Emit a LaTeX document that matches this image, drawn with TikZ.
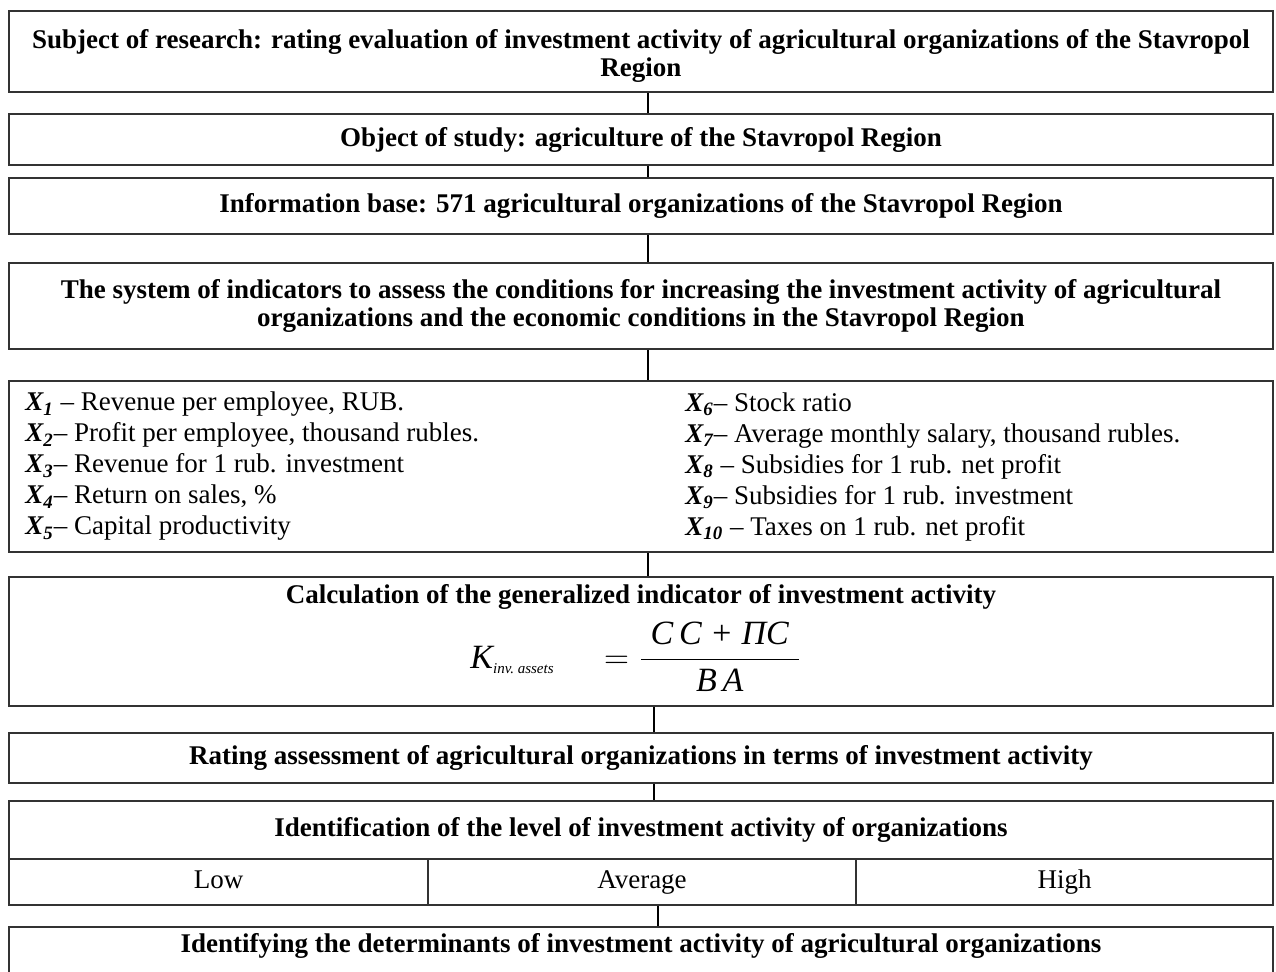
\documentclass[tikz,border=0pt]{standalone}
\usepackage{amsmath}
\usepackage{fontspec}
\setmainfont{Liberation Serif}
\usepackage{tikz}
\newcommand\hdfont{\fontsize{13.5}{14}\selectfont\bfseries}
\newcommand\lsfont{\fontsize{13.5}{15.5}\selectfont}
\newcommand\xvar[1]{\textbf{\itshape X\textsubscript{#1}}}
\tikzset{
  box/.style={draw=black!80, line width=0.8pt, minimum width=632pt, inner sep=0pt,
              align=center, font=\hdfont},                 % flow box
  cell/.style={draw=black!80, line width=0.8pt, inner sep=0pt, minimum height=23pt,
               text height=9.5pt, text depth=3pt, font=\lsfont}, % level cell
  lst/.style={inner sep=0pt, align=left, font=\lsfont},     % list of indicators
  conn/.style={draw=black, line width=0.7pt},               % connector
}

\begin{document}
\begin{tikzpicture}[x=0.5pt, y=-0.5pt]
  \useasboundingbox (0,0) rectangle (1276,971);
  \node[box, minimum height=40.5pt] (subj) at (641,51.5)
    {\rule{0pt}{14pt}Subject of research: rating evaluation of investment activity of agricultural organizations of the Stavropol\\Region};
  \node[box, minimum height=25.5pt] (obj) at (641,139.5) {Object of study: agriculture of the Stavropol Region};
  \node[box, minimum height=28pt] (info) at (641,206) {Information base: 571 agricultural organizations of the Stavropol Region};
  \node[box, minimum height=43pt] (sys) at (641,306)
    {The system of indicators to assess the conditions for increasing the investment activity of agricultural\\organizations and the economic conditions in the Stavropol Region};
  \node[box, minimum height=85.5pt] (ind) at (641,466.5) {};
  \node[lst, anchor=west] (indL) at (25,466.5)
    {\xvar{1} -- Revenue per employee, RUB.\\
     \xvar{2}-- Profit per employee, thousand rubles.\\
     \xvar{3}-- Revenue for 1 rub. investment\\
     \xvar{4}-- Return on sales, \%\\
     \xvar{5}-- Capital productivity};
  \node[lst, anchor=west] (indR) at (685,466.5)
    {\xvar{6}-- Stock ratio\\
     \xvar{7}-- Average monthly salary, thousand rubles.\\
     \xvar{8} -- Subsidies for 1 rub. net profit\\
     \xvar{9}-- Subsidies for 1 rub. investment\\
     \xvar{10} -- Taxes on 1 rub. net profit};
  \node[box, minimum height=64.5pt] (calc) at (641,641.5) {};
  \node[font=\hdfont, inner sep=0pt] (calcT) at (641,597) {Calculation of the generalized indicator of investment activity};
  \node[inner sep=0pt, anchor=west, font=\fontsize{17}{20}\selectfont] (frm) at (470,657)
    {$\text{\itshape K}_{\text{\fontsize{7.5}{9}\selectfont\itshape inv.\ assets}}\hspace{20pt}=
      \genfrac{}{}{0.8pt}{0}{\;\text{\itshape C\,C + ПC}\;}{\text{\itshape B\,A}}$};
  \node[box, minimum height=25pt] (rate) at (641,758) {Rating assessment of agricultural organizations in terms of investment activity};
  \node[box, minimum height=29pt] (lvl) at (641,830) {Identification of the level of investment activity of organizations};
  \node[cell, minimum width=209.5pt] (low) at (218.5,882) {Low};
  \node[cell, minimum width=214pt] (avg) at (642,882) {Average};
  \node[cell, minimum width=208.5pt] (high) at (1064.5,882) {High};
  \node[box, anchor=north, text height=13pt, text depth=16pt] (det) at (641,926)
    {Identifying the determinants of investment activity of agricultural organizations};
  \foreach \a/\b/\s in {subj/obj/3.5pt, obj/info/3.5pt, info/sys/3.5pt, sys/ind/3.5pt,
                        ind/calc/3.5pt, calc/rate/6.5pt, rate/lvl/6.5pt, avg/det/8pt}
    \draw[conn] ([xshift=\s]\a.south) coordinate (t) -- (t |- \b.north);
\end{tikzpicture}
\end{document}
